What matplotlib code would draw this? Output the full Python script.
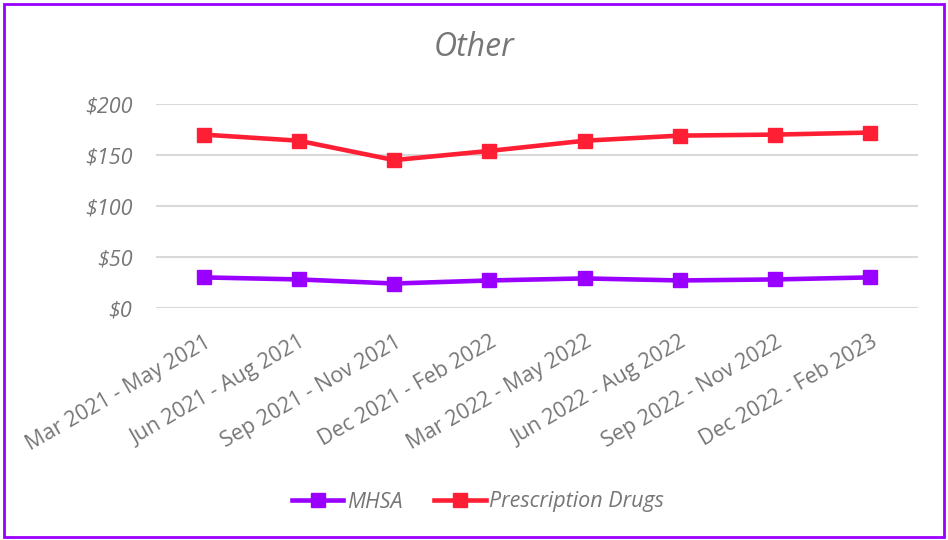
import matplotlib
matplotlib.use("Agg")
import matplotlib.pyplot as plt
from matplotlib.patches import Rectangle

categories = ["Mar 2021 - May 2021", "Jun 2021 - Aug 2021", "Sep 2021 - Nov 2021",
              "Dec 2021 - Feb 2022", "Mar 2022 - May 2022", "Jun 2022 - Aug 2022",
              "Sep 2022 - Nov 2022", "Dec 2022 - Feb 2023"]
mhsa = [30, 28, 24, 27, 29, 27, 28, 30]
rx = [170, 164, 145, 154, 164, 169, 170, 172]
yticks = [0, 50, 100, 150, 200]
ytick_labels = ["$0", "$50", "$100", "$150", "$200"]

plt.rcParams['font.family'] = ['Open Sans', 'DejaVu Sans']
gray = "#767676"

fig = plt.figure(figsize=(9.48, 5.4), dpi=100)
ax = fig.add_axes([156/948, 1-308/540, (918-156)/948, (308-104)/540])

x = list(range(len(categories)))
ax.plot(x, mhsa, color="#9900FF", lw=3.3, marker="s", ms=10, label="MHSA")
ax.plot(x, rx, color="#FF1F35", lw=3.3, marker="s", ms=10, label="Prescription Drugs")

ax.set_xlim(-0.5, len(categories) - 0.5)
ax.set_ylim(0, 200)
ax.set_yticks(yticks)
ax.set_yticklabels(ytick_labels, fontstyle="italic", color=gray, fontsize=15.5)
ax.set_xticks(x)
ax.set_xticklabels(categories, rotation=30, ha="right", rotation_mode="anchor",
                   color=gray, fontsize=15.5)
ax.tick_params(axis="both", length=0)
ax.tick_params(axis="y", pad=17)
ax.tick_params(axis="x", pad=17)
ax.grid(axis="y", color="#D9D9D9", lw=1.5)
ax.set_axisbelow(True)
for s in ax.spines.values():
    s.set_visible(False)

fig.text(474/948, 1-48/540, "Other", ha="center", va="center", fontsize=23,
         fontstyle="italic", color=gray)

leg = fig.legend(loc="center", bbox_to_anchor=(478/948, 1-502/540), ncol=2,
                 frameon=False, fontsize=15.5, handlelength=2.4, columnspacing=1.5,
                 handletextpad=0.15)
for t in leg.get_texts():
    t.set_color(gray)
    t.set_fontstyle("italic")

fig.add_artist(Rectangle((4/948, 3/540), 940/948, 533/540, transform=fig.transFigure,
                         fill=False, edgecolor="#9B00FF", lw=2))

fig.savefig("out.png", dpi=100)
